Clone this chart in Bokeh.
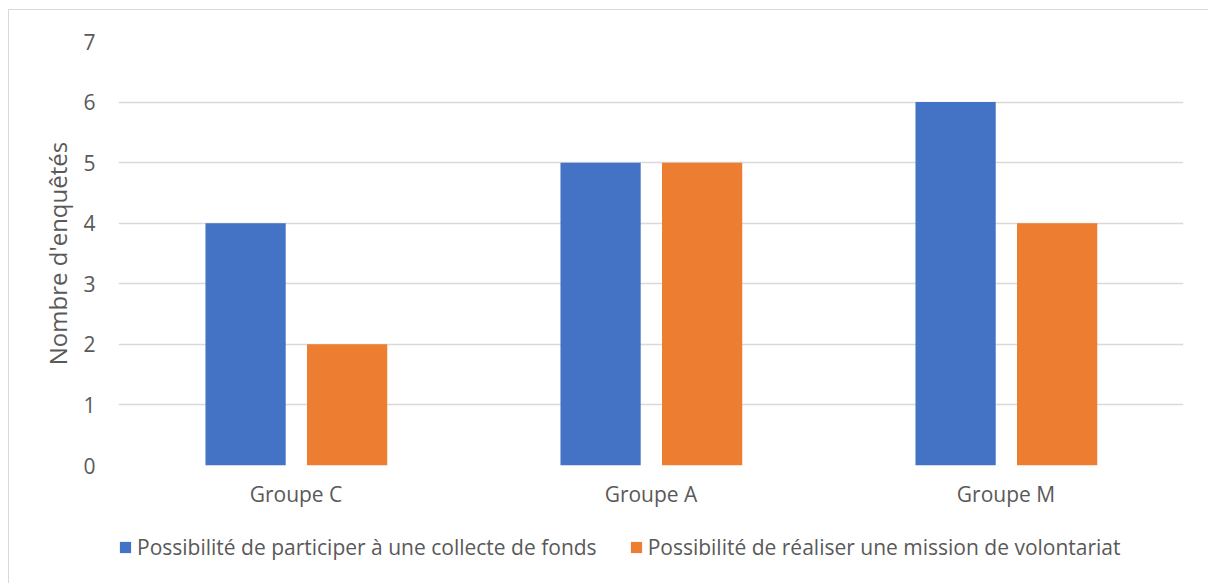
from bokeh.plotting import figure
from bokeh.models import FactorRange, Legend, LegendItem, Range1d, FixedTicker, Spacer
from bokeh.layouts import column, row
from bokeh.transform import dodge
from bokeh.embed import file_html
from bokeh.resources import INLINE
from bokeh.models import ColumnDataSource

groups = ["Groupe C", "Groupe A", "Groupe M"]
collecte = [4, 5, 6]
volontariat = [2, 5, 4]
series_names = ["Possibilité de participer à une collecte de fonds",
                "Possibilité de réaliser une mission de volontariat"]
colors = ["#4472C4", "#ED7D31"]

src = ColumnDataSource(dict(g=groups, a=collecte, b=volontariat))

FONT = "Open Sans"
TXT = "#595959"
BORDER = "1px solid #d9d9d9"

p = figure(x_range=FactorRange(*groups), y_range=Range1d(0, 7),
           width=1200, height=511, output_backend="svg", toolbar_location=None,
           min_border_left=109, min_border_right=26, min_border_top=31, min_border_bottom=56)
p.styles = {"border-left": BORDER, "border-top": BORDER}

p.vbar(x=dodge("g", -0.142, range=p.x_range), top="a", width=0.226, source=src,
       fill_color=colors[0], line_color=None)
p.vbar(x=dodge("g", 0.144, range=p.x_range), top="b", width=0.226, source=src,
       fill_color=colors[1], line_color=None)

p.outline_line_color = None
p.xgrid.grid_line_color = None
p.ygrid.grid_line_color = "#d9d9d9"
p.ygrid.grid_line_width = 1.3
p.yaxis.ticker = FixedTicker(ticks=list(range(0, 8)))
for ax in (p.xaxis, p.yaxis):
    ax.axis_line_color = None
    ax.major_tick_line_color = None
    ax.minor_tick_line_color = None
    ax.major_label_text_font = FONT
    ax.major_label_text_font_size = "21px"
    ax.major_label_text_color = TXT
    ax.axis_label_text_font = FONT
    ax.axis_label_text_font_style = "normal"
    ax.axis_label_text_color = TXT
p.yaxis.major_label_standoff = 17
p.xaxis.major_label_standoff = 8
p.yaxis.axis_label = "Nombre d'enquêtés"
p.yaxis.axis_label_text_font_size = "24px"
p.yaxis.axis_label_standoff = 6

# legend strip under the chart (its frame lines up with the chart's frame)
p2 = figure(width=1200, height=63, output_backend="svg", toolbar_location=None,
            x_range=Range1d(0, 1), y_range=Range1d(0, 1),
            min_border_left=109, min_border_right=26, min_border_top=0, min_border_bottom=0)
p2.styles = {"border-left": BORDER}
p2.axis.visible = False
p2.grid.visible = False
p2.outline_line_color = None
key_src = ColumnDataSource(dict(x=[-10.0], top=[-10.0]))
l1 = p2.vbar(x="x", top="top", width=0.1, source=key_src, fill_color=colors[0], line_color=None)
l2 = p2.vbar(x="x", top="top", width=0.1, source=key_src, fill_color=colors[1], line_color=None)
legend = Legend(items=[LegendItem(label=series_names[0], renderers=[l1]),
                       LegendItem(label=series_names[1], renderers=[l2])],
                orientation="horizontal", location=(0, 22),
                glyph_width=14, glyph_height=14, label_standoff=5, spacing=32,
                padding=0, margin=0, border_line_color=None, background_fill_alpha=0,
                label_text_font=FONT, label_text_font_size="21px", label_text_color=TXT)
p2.add_layout(legend, "center")

layout = column(Spacer(height=9), row(Spacer(width=8), column(p, p2, spacing=0)), spacing=0)

open("out.html", "w").write(file_html(layout, INLINE))
